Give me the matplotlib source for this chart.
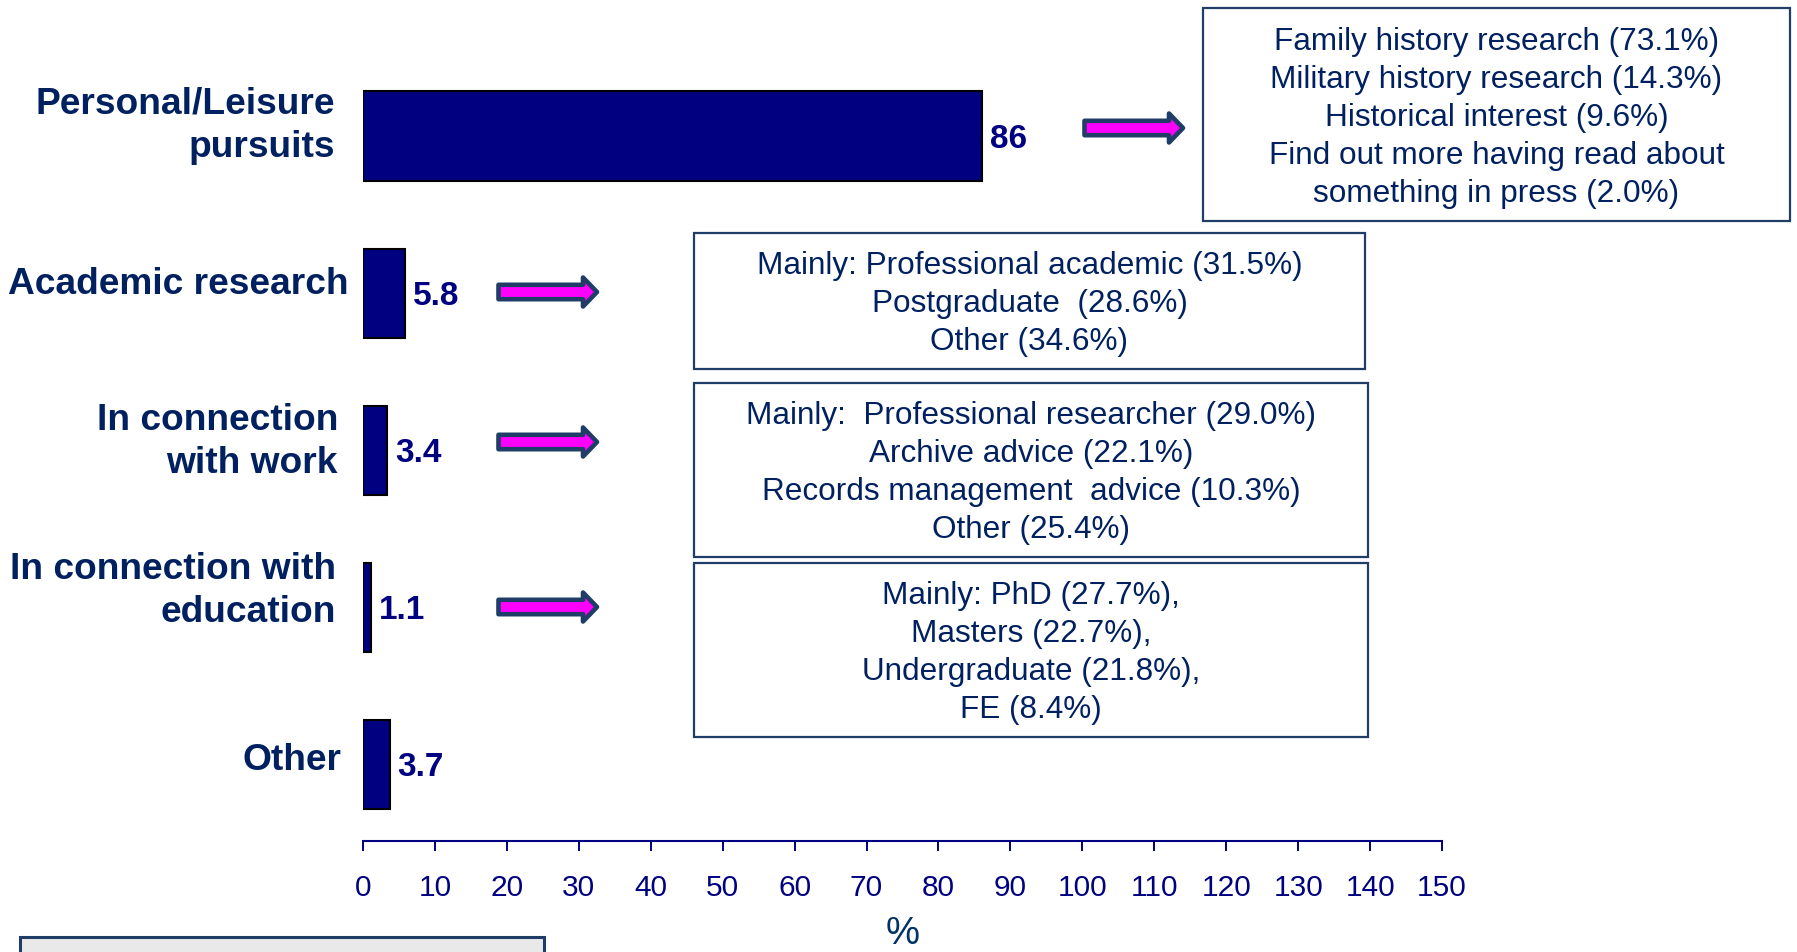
import matplotlib
matplotlib.use("Agg")
import matplotlib.pyplot as plt
from matplotlib import font_manager
from matplotlib.patches import Rectangle, Polygon
from matplotlib.transforms import offset_copy

# data
categories = ["Personal/Leisure\npursuits", "Academic research", "In connection\nwith work",
              "In connection with\neducation", "Other"]
values = [86, 5.8, 3.4, 1.1, 3.7]
xticks = list(range(0, 151, 10))

notes = [
    ["Family history research (73.1%)", "Military history research (14.3%)",
     "Historical interest (9.6%)", "Find out more having read about",
     "something in press (2.0%)"],
    ["Mainly: Professional academic (31.5%)", "Postgraduate  (28.6%)", "Other (34.6%)"],
    ["Mainly:  Professional researcher (29.0%)", "Archive advice (22.1%)",
     "Records management  advice (10.3%)", "Other (25.4%)"],
    ["Mainly: PhD (27.7%),", "Masters (22.7%),", "Undergraduate (21.8%),", "FE (8.4%)"],
]

# layout, in pixels of the 1797x952 picture
W, H = 1797, 952
note_boxes = [(1203, 8, 1790, 221), (694, 233, 1365, 369), (694, 383, 1368, 557), (694, 563, 1368, 737)]
arrow_starts = [(1082, 128), (496, 292), (496, 442), (496, 607)]
label_dx = [28, 15, 25, 27, 21]   # gap from axis to right edge of each category label
label_dy = [-14, -12, -12, -20, -7]  # label block centre relative to bar centre

names = {f.name for f in font_manager.fontManager.ttflist}
narrow = "Liberation Sans Narrow" if "Liberation Sans Narrow" in names else "Liberation Sans"
plt.rcParams["font.family"] = ["Liberation Sans", "DejaVu Sans"]

navy = "#000080"
dark = "#002060"
edge = "#1f3d66"

fig = plt.figure(figsize=(W / 100, H / 100), dpi=100)
ax = fig.add_axes([363 / W, 1 - 841 / H, (1442 - 363) / W, (841 - 57.5) / H])

ypos = range(len(values))
ax.barh(ypos, values, height=0.567, color=navy, edgecolor="black", linewidth=1.5)
ax.set_xlim(0, 150)
ax.set_ylim(4.49, -0.5)
ax.set_xticks(xticks)
ax.set_yticks([])
for s in ["top", "right", "left"]:
    ax.spines[s].set_visible(False)
ax.spines["bottom"].set_color(navy)
ax.spines["bottom"].set_linewidth(1.5)
ax.tick_params(axis="x", direction="out", length=7.5, width=1.4, color=navy,
               labelcolor=navy, labelsize=21.5, pad=16)
for t in ax.get_xticklabels():
    t.set_family(narrow)
ax.set_xlabel("%", fontsize=27.5, color="#003366", labelpad=10.5)

# value labels
for i, v in enumerate(values):
    tr = offset_copy(ax.transData, fig=fig, x=5.8, y=-0.358 * 24, units="points")
    ax.text(v, i, f"{v:g}", transform=tr, ha="left", va="baseline", fontsize=24,
            fontweight="bold", family=narrow, color=navy)

# category labels
cat_fs = 26.7
for i, lab in enumerate(categories):
    lines = lab.split("\n")
    n = len(lines)
    for k, line in enumerate(lines):
        cap_c = label_dy[i] + 43 * (k - (n - 1) / 2)
        base = cap_c + 0.358 * cat_fs / 0.72
        tr = offset_copy(ax.get_yaxis_transform(), fig=fig, x=-label_dx[i] * 0.72,
                         y=-base * 0.72, units="points")
        ax.text(0, i, line, transform=tr, ha="right", va="baseline", fontsize=cat_fs,
                fontweight="bold", color=dark)

# overlay in picture pixels for boxes and arrows
ov = fig.add_axes([0, 0, 1, 1])
ov.set_xlim(0, W)
ov.set_ylim(H, 0)
ov.axis("off")

note_fs = 22.7
for (x0, y0, x1, y1), lines in zip(note_boxes, notes):
    ov.add_patch(Rectangle((x0, y0), x1 - x0, y1 - y0, fc="white", ec=edge, lw=1.6))
    cx, cy = (x0 + x1) / 2, (y0 + y1) / 2
    n = len(lines)
    for k, line in enumerate(lines):
        yb = cy + 38 * (k - (n - 1) / 2) + 0.358 * note_fs / 0.72
        ov.text(cx, yb, line, ha="center", va="baseline", fontsize=note_fs, color=dark)

for x0, yc in arrow_starts:
    L = 104
    xs, xe, hb = x0 + 2.5, x0 + L - 3, x0 + L - 17
    pts = [(xs, yc - 7.2), (hb, yc - 7.2), (hb, yc - 14.5), (xe, yc),
           (hb, yc + 14.5), (hb, yc + 7.2), (xs, yc + 7.2)]
    ov.add_patch(Polygon(pts, closed=True, fc="#ff00ff", ec=edge, lw=3.3, joinstyle="round"))

ov.add_patch(Rectangle((20, 937), 524, 40, fc="#e9e9e9", ec=edge, lw=2.2, clip_on=False))

fig.savefig("out.png", dpi=100)
